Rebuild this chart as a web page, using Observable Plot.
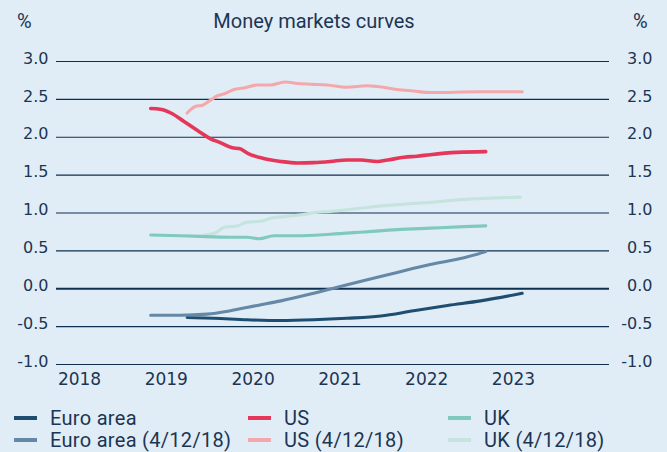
<!DOCTYPE html>
<html><head><meta charset="utf-8">
<script src="https://cdn.jsdelivr.net/npm/d3@7"></script>
<script src="https://cdn.jsdelivr.net/npm/@observablehq/plot@0.6"></script>
<style>
html,body{margin:0;padding:0;background:#e1edf6;}
#wrap{position:relative;width:667px;height:452px;overflow:hidden;background:#e1edf6;color:#1c3553;font-family:Roboto,sans-serif;}
.hdr{position:absolute;top:10px;font-size:20px;line-height:22px;white-space:nowrap;}
#chart{position:absolute;left:0;top:40px;}
#chart text.ytl{letter-spacing:1.5px;}
#chart text.xtl{letter-spacing:2.3px;}
.leg{position:absolute;font-size:20px;line-height:22px;letter-spacing:0.3px;display:flex;align-items:center;white-space:nowrap;}
.sw{width:23px;height:4px;margin-right:13px;flex:none;}
</style></head><body>
<div id="wrap">
  <div class="hdr" style="left:17px">%</div>
  <div class="hdr" style="left:0;width:628px;text-align:center">Money markets curves</div>
  <div class="hdr" style="left:633px">%</div>
  <div id="chart"></div>
  <div id="legend"></div>
</div>
<script>
// ---- data (decimal years, percent) ----
const euroYears = [2019.24, 2019.55, 2019.93, 2020.32, 2020.70, 2021.08, 2021.47, 2021.85, 2022.24, 2022.62, 2023.10];
const euroValues = [-0.38, -0.39, -0.41, -0.42, -0.41, -0.39, -0.36, -0.29, -0.22, -0.16, -0.06];

const euroOldYears = [2018.82, 2019.16, 2019.47, 2019.74, 2020.05, 2020.32, 2020.66, 2020.97, 2021.28, 2021.66, 2021.85, 2022.04, 2022.43, 2022.68];
const euroOldValues = [-0.35, -0.35, -0.335, -0.29, -0.22, -0.16, -0.07, 0.02, 0.11, 0.215, 0.27, 0.32, 0.41, 0.49];

const usYears = [2018.82, 2018.93, 2019.07, 2019.20, 2019.36, 2019.51, 2019.62, 2019.76, 2019.84, 2019.95, 2020.12, 2020.32, 2020.51, 2020.70, 2020.89, 2021.08, 2021.24, 2021.43, 2021.55, 2021.74, 2021.89, 2022.04, 2022.35, 2022.68];
const usValues = [2.38, 2.37, 2.31, 2.21, 2.09, 1.98, 1.93, 1.86, 1.85, 1.78, 1.72, 1.68, 1.66, 1.665, 1.68, 1.70, 1.70, 1.68, 1.70, 1.735, 1.75, 1.77, 1.80, 1.81];

const usOldYears = [2019.24, 2019.34, 2019.41, 2019.51, 2019.59, 2019.66, 2019.78, 2019.89, 2020.05, 2020.20, 2020.37, 2020.51, 2020.66, 2020.85, 2021.08, 2021.31, 2021.43, 2021.66, 2021.85, 2022.04, 2022.62, 2023.10];
const usOldValues = [2.32, 2.41, 2.42, 2.49, 2.55, 2.57, 2.63, 2.65, 2.69, 2.69, 2.73, 2.71, 2.70, 2.69, 2.66, 2.68, 2.67, 2.63, 2.61, 2.59, 2.60, 2.60];

const ukYears = [2018.82, 2019.16, 2019.39, 2019.74, 2019.93, 2020.07, 2020.24, 2020.51, 2020.89, 2021.28, 2021.66, 2022.04, 2022.43, 2022.68];
const ukValues = [0.71, 0.70, 0.69, 0.68, 0.68, 0.66, 0.70, 0.70, 0.72, 0.75, 0.78, 0.80, 0.82, 0.83];

const ukOldYears = [2019.24, 2019.36, 2019.57, 2019.66, 2019.82, 2019.93, 2020.09, 2020.20, 2020.39, 2020.58, 2020.74, 2020.89, 2021.28, 2021.66, 2022.04, 2022.43, 2023.08];
const ukOldValues = [0.70, 0.70, 0.74, 0.81, 0.83, 0.88, 0.89, 0.93, 0.955, 0.98, 1.01, 1.02, 1.07, 1.11, 1.14, 1.18, 1.21];

const yTicks = [3.0, 2.5, 2.0, 1.5, 1.0, 0.5, 0.0, -0.5, -1.0];
const yearTicks = [2018, 2019, 2020, 2021, 2022, 2023];

const seriesNames = ["Euro area", "US", "UK", "Euro area (4/12/18)", "US (4/12/18)", "UK (4/12/18)"];
const seriesColors = ["#1f4d70", "#e4375a", "#80c9bf", "#6488a5", "#f5a8ab", "#c5e4de"];

// ---- build ----
const toRows = (xs, vs) => xs.map((x, i) => ({year: x, value: vs[i]}));
const rows = {
  "Euro area": toRows(euroYears, euroValues),
  "Euro area (4/12/18)": toRows(euroOldYears, euroOldValues),
  "US": toRows(usYears, usValues),
  "US (4/12/18)": toRows(usOldYears, usOldValues),
  "UK": toRows(ukYears, ukValues),
  "UK (4/12/18)": toRows(ukOldYears, ukOldValues)
};
const colorOf = name => seriesColors[seriesNames.indexOf(name)];
const drawOrder = ["Euro area", "Euro area (4/12/18)", "US (4/12/18)", "US", "UK (4/12/18)", "UK"];

const txt = "#1c3553";
const chart = Plot.plot({
  width: 667, height: 355,
  marginLeft: 56, marginRight: 58, marginTop: 21, marginBottom: 31,
  style: {background: "transparent", color: txt, overflow: "visible"},
  x: {type: "linear", domain: [2017.735, 2024.106], axis: null},
  y: {domain: [-1, 3], axis: null},
  marks: [
    Plot.ruleY(yTicks.filter(d => d !== 0), {stroke: "#0f2f4e", strokeWidth: 1.2}),
    Plot.ruleY([0], {stroke: "#0f2f4e", strokeWidth: 1.9}),
    Plot.text(yTicks, {y: d => d, text: d => d.toFixed(1), frameAnchor: "left", textAnchor: "end", dx: -8, dy: -3, fontSize: 16, fontFamily: "DejaVu Sans", fill: txt, className: "ytl"}),
    Plot.text(yTicks, {y: d => d, text: d => d.toFixed(1), frameAnchor: "right", textAnchor: "end", dx: 43, dy: -3, fontSize: 16, fontFamily: "DejaVu Sans", fill: txt, className: "ytl"}),
    Plot.text(yearTicks, {x: d => d, text: d => String(d), frameAnchor: "bottom", lineAnchor: "middle", dy: 15, fontSize: 17, fontFamily: "DejaVu Sans", fill: txt, className: "xtl"}),
    ...drawOrder.map(name => Plot.line(rows[name], {
      x: "year", y: "value", stroke: colorOf(name),
      strokeWidth: name === "US" ? 3.6 : 3.1, curve: "monotone-x"
    }))
  ]
});
document.getElementById("chart").appendChild(chart);

// ---- legend ----
const legend = document.getElementById("legend");
const colX = [14, 248, 448];
const rowY = [407, 429];
seriesNames.forEach((name, i) => {
  const el = document.createElement("div");
  el.className = "leg";
  el.style.left = colX[i % 3] + "px";
  el.style.top = rowY[Math.floor(i / 3)] + "px";
  const sw = document.createElement("span");
  sw.className = "sw";
  sw.style.background = seriesColors[i];
  el.appendChild(sw);
  el.appendChild(document.createTextNode(name));
  legend.appendChild(el);
});
</script>
</body></html>
